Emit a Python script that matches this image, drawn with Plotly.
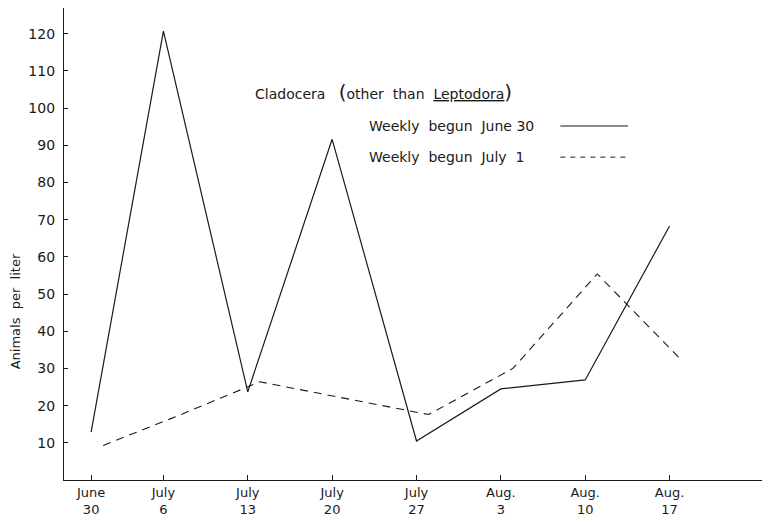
import plotly.graph_objects as go

# Data
dates_a = ["1940-06-30", "1940-07-06", "1940-07-13", "1940-07-20",
           "1940-07-27", "1940-08-03", "1940-08-10", "1940-08-17"]
vals_a = [12.9, 120.7, 23.7, 91.6, 10.5, 24.5, 26.9, 68.3]

dates_b = ["1940-07-01", "1940-07-07", "1940-07-14", "1940-07-21",
           "1940-07-28", "1940-08-04", "1940-08-11", "1940-08-18"]
vals_b = [9.3, 17.0, 26.4, 22.0, 17.6, 30.0, 55.4, 32.2]

tick_dates = dates_a
tick_labels = ["June<br>30", "July<br>6", "July<br>13", "July<br>20",
               "July<br>27", "Aug.<br>3", "Aug.<br>10", "Aug.<br>17"]
y_ticks = [10, 20, 30, 40, 50, 60, 70, 80, 90, 100, 110, 120]

FONT = "DejaVu Sans"
INK = "#1a1a1a"

fig = go.Figure()
fig.add_trace(go.Scatter(x=dates_a, y=vals_a, mode="lines",
                         line=dict(color=INK, width=1.2), showlegend=False))
fig.add_trace(go.Scatter(x=dates_b, y=vals_b, mode="lines",
                         line=dict(color=INK, width=1.1, dash="8px,6px"),
                         showlegend=False))

# page has an 8px body margin; figure sized so plot area lands where the reference's is
fig.update_layout(
    width=762, height=508,
    margin=dict(l=56, r=0, t=0, b=36),
    paper_bgcolor="white", plot_bgcolor="white",
    font=dict(family=FONT, color=INK, size=13),
    xaxis=dict(type="date", range=["1940-06-27 18:00", "1940-08-25 08:00"],
               tickvals=tick_dates, ticktext=tick_labels,
               ticks="inside", ticklen=5, tickcolor=INK, tickwidth=1,
               showline=True, linecolor=INK, linewidth=1.2,
               showgrid=False, zeroline=False, ticklabelstandoff=0,
               tickfont=dict(size=13, family=FONT)),
    yaxis=dict(range=[0, 126.9], tickvals=y_ticks,
               ticks="inside", ticklen=4, tickcolor=INK, tickwidth=1,
               showline=True, linecolor=INK, linewidth=1.2,
               showgrid=False, zeroline=False,
               ticklabelstandoff=5,
               tickfont=dict(size=14, family=FONT)),
)

fig.add_annotation(xref="paper", yref="paper", x=-0.069, y=0.358,
                   text="Animals  per  liter", textangle=-90, showarrow=False,
                   font=dict(size=13, family=FONT), xanchor="center", yanchor="middle")

fig.add_annotation(xref="paper", yref="paper", x=0.268, y=0.822,
                   text="Cladocera   <span style='font-size:20px'>(</span>other  than  "
                        "<span style='text-decoration:underline'>Leptodora</span>"
                        "<span style='font-size:20px'>)</span>",
                   showarrow=False, xanchor="left", yanchor="middle",
                   font=dict(size=14, family=FONT))
fig.add_annotation(xref="paper", yref="paper", x=0.429, y=0.750,
                   text="Weekly  begun  June 30", showarrow=False,
                   xanchor="left", yanchor="middle", font=dict(size=14, family=FONT))
fig.add_annotation(xref="paper", yref="paper", x=0.429, y=0.684,
                   text="Weekly  begun  July  1", showarrow=False,
                   xanchor="left", yanchor="middle", font=dict(size=14, family=FONT))

fig.add_shape(type="line", xref="paper", yref="paper", x0=0.703, x1=0.799,
              y0=0.750, y1=0.750, line=dict(color=INK, width=1.1))
fig.add_shape(type="line", xref="paper", yref="paper", x0=0.703, x1=0.799,
              y0=0.684, y1=0.684, line=dict(color=INK, width=1, dash="5px,5px"))

fig.write_html("out.html")
